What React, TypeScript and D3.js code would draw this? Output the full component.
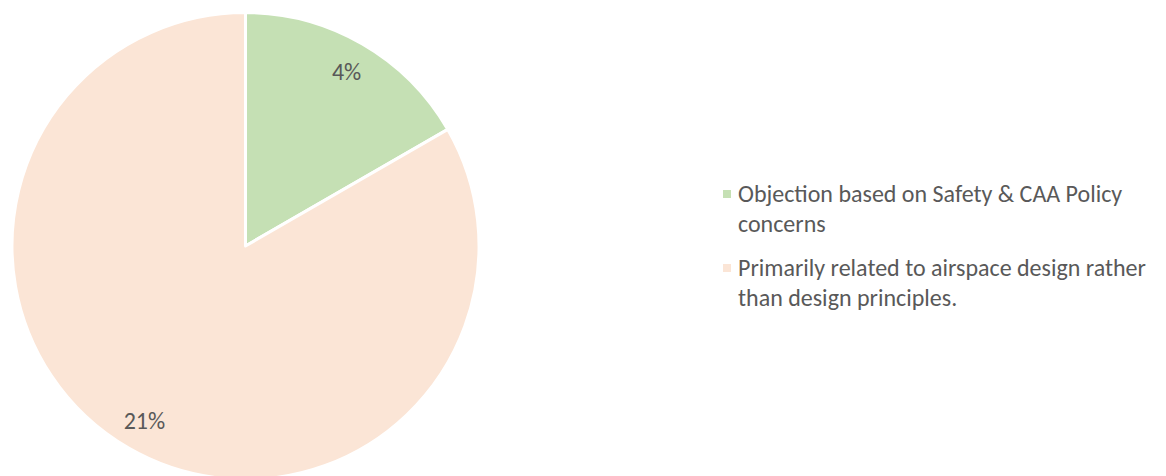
import React from "react";
import * as d3 from "d3";

const categories = [
  "Objection based on Safety & CAA Policy concerns",
  "Primarily related to airspace design rather than design principles.",
];
const values = [4.17, 20.83];
const labels = ["4%", "21%"];
const colors = ["#C5E0B4", "#FBE5D6"];
const legendLines = [
  ["Objection based on Safety & CAA Policy", "concerns"],
  ["Primarily related to airspace design rather", "than design principles."],
];

const W = 1166;
const H = 476;
const FONT = "Carlito, Lato, 'Open Sans', sans-serif";

export default function App() {
  const cx = 245.5;
  const cy = 246;
  const r = 233.5;
  const pie = d3.pie<number>().sort(null).value((d) => d);
  const arcs = pie(values);
  const arcGen = d3.arc<d3.PieArcDatum<number>>().innerRadius(0).outerRadius(r);
  const labelArc = d3.arc<d3.PieArcDatum<number>>().innerRadius(202).outerRadius(202);

  return (
    <svg
      width={W}
      height={H}
      style={{ position: "absolute", left: 0, top: 0, background: "#fff" }}
    >
      <g transform={`translate(${cx},${cy})`}>
        {arcs.map((a, i) => (
          <path key={i} d={arcGen(a) || ""} fill={colors[i]} stroke="#fff" strokeWidth={3} strokeLinejoin="round" />
        ))}
        {arcs.map((a, i) => {
          const [x, y] = labelArc.centroid(a);
          return (
            <text key={i} x={x} y={y} dy="0.35em" textAnchor="middle" fontFamily={FONT} fontSize={24} fill="#595959">
              {labels[i]}
            </text>
          );
        })}
      </g>
      <g fontFamily={FONT} fontSize={24} fill="#595959">
        {categories.map((c, i) => {
          const y0 = 194 + i * 74;
          return (
            <g key={c}>
              <rect x={723} y={y0 - 4} width={8} height={8} fill={colors[i]} />
              {legendLines[i].map((ln, j) => (
                <text key={j} x={738} y={y0 + j * 30} dy="0.35em">
                  {ln}
                </text>
              ))}
            </g>
          );
        })}
      </g>
    </svg>
  );
}
